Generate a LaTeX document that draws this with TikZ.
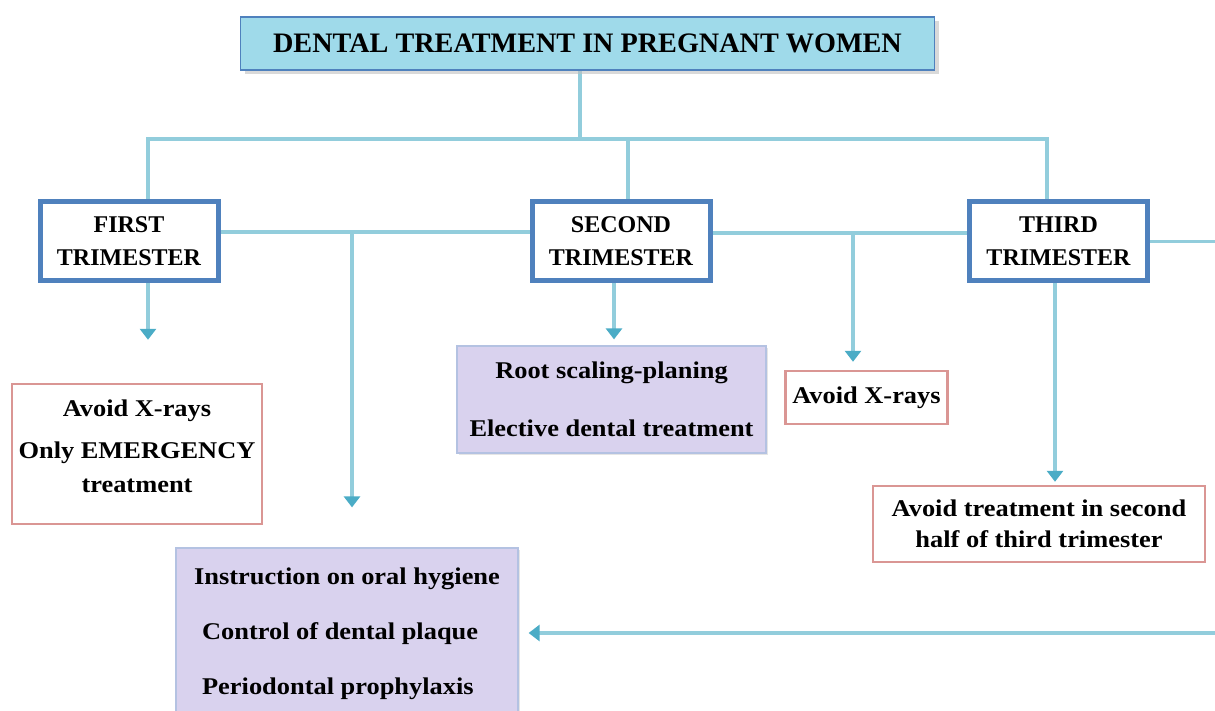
\documentclass[tikz,border=0pt]{standalone}
\usepackage{fontspec}
\setmainfont{Liberation Serif}[FakeStretch=1.1]
\newfontfamily\capsfont{Liberation Serif}
\usetikzlibrary{arrows.meta, positioning, shadows, backgrounds}
\usepackage{xcolor}
\definecolor{lineBlue}{HTML}{92CDDC}
\definecolor{tipBlue}{HTML}{4BACC6}
\definecolor{frameBlue}{HTML}{4F81BD}
\definecolor{headCyan}{HTML}{9FDAEA}
\definecolor{roseLine}{HTML}{DA9694}
\definecolor{lilac}{HTML}{D9D2EE}
\definecolor{lilacLine}{HTML}{B4C2E2}
\tikzset{
    font=\bfseries\fontsize{12}{14.5}\selectfont,
    >={Triangle[width=8pt,length=5.5pt,color=tipBlue]},
    % Shapes
    headBox/.style={rectangle, draw=frameBlue, line width=0.6pt, fill=headCyan,
                    minimum width=347pt, minimum height=26.5pt,
                    font=\capsfont\bfseries\fontsize{14.1}{16}\selectfont,
                    drop shadow={shadow xshift=2pt, shadow yshift=-2pt, fill=gray!50, opacity=0.6}},
    triBox/.style={rectangle, draw=frameBlue, line width=2.5pt, fill=white,
                   minimum width=89pt, minimum height=39.5pt, align=center,
                   font=\capsfont\bfseries\fontsize{12}{16.5}\selectfont},
    warnBox/.style={rectangle, draw=roseLine, line width=1.2pt, fill=white, align=center},
    careBox/.style={rectangle, draw=lilacLine, line width=0.6pt, fill=lilac, align=center,
                    drop shadow={shadow xshift=1pt, shadow yshift=-1pt, fill=gray!40, opacity=0.5}},
    % Flow
    link/.style={line width=1.6pt, lineBlue},
    flow/.style={link, ->}
}

\begin{document}
\begin{tikzpicture}[x=0.5pt, y=-0.5pt]
\clip (0,0) rectangle (1215,711);

\node[headBox] (title) at (587.5,43.5) {DENTAL TREATMENT IN PREGNANT WOMEN};

\node[triBox] (first) at (129,241.5) {FIRST\\TRIMESTER};
\node[triBox] (second) at (621,241.5) {SECOND\\TRIMESTER};
\node[triBox] (third) at (1058.5,241.5) {THIRD\\TRIMESTER};

\node[warnBox, minimum width=124pt, minimum height=70pt] (emerg) at (137,454)
    {Avoid X-rays\\[6.5pt]Only EMERGENCY\\[2.5pt]treatment\\[-7pt]\mbox{}};
\node[warnBox, minimum width=78.5pt, minimum height=26.5pt] (xray) at (866.5,397.5) {Avoid X-rays};
\node[warnBox, minimum width=166pt, minimum height=38pt] (late) at (1039,524)
    {Avoid treatment in second\\[1pt]half of third trimester};
\node[careBox, minimum width=154.5pt, minimum height=53.5pt] (root) at (611.5,399.5)
    {Root scaling-planing\\[14.5pt]Elective dental treatment};
\node[careBox, minimum width=171pt, minimum height=88.5pt, align=left] (hygiene) at (347,636.5)
    {Instruction on oral hygiene\\[13pt]\hspace{4pt}Control of dental plaque\\[13pt]\hspace{4pt}Periodontal prophylaxis\\[-9pt]\mbox{}};

\coordinate (bus) at (580,139);
\coordinate (j1) at (352,232);
\coordinate (j2) at (853,233);
\coordinate (edgeTop) at (1225,241.5);
\coordinate (edgeLow) at (1225,633);

\begin{scope}[on background layer]
\draw[link] (bus |- title.south) -- (bus);
\draw[link] ([xshift=9.5pt]first.north) |- ([xshift=-5.75pt]third.north |- bus) -- ([xshift=-5.75pt]third.north);
\draw[link] ([xshift=3.5pt]second.north) -- ([xshift=3.5pt]second.north |- bus);
\draw[link] ([yshift=4.75pt]first.east) -- ([yshift=4.75pt]second.west);
\draw[link] ([yshift=4.25pt]second.east) -- ([yshift=4.25pt]third.west);
\draw[link] (third.east) -- (edgeTop);

\draw[flow, shorten >=21.5pt] ([xshift=9.5pt]first.south) -- ([xshift=9.5pt]first.south |- emerg.north);
\draw[flow, shorten >=20pt] (j1) -- (j1 |- hygiene.north);
\draw[flow, shorten >=3pt] ([xshift=-3.5pt]second.south) -- ([xshift=-3.5pt]second.south |- root.north);
\draw[flow, shorten >=4pt] (j2) -- (j2 |- xray.north);
\draw[flow, shorten >=1.5pt] ([xshift=-1.75pt]third.south) -- ([xshift=-1.75pt]third.south |- late.north);
\draw[flow, shorten >=5pt] (edgeLow) -- (edgeLow -| hygiene.east);
\end{scope}

\end{tikzpicture}
\end{document}
